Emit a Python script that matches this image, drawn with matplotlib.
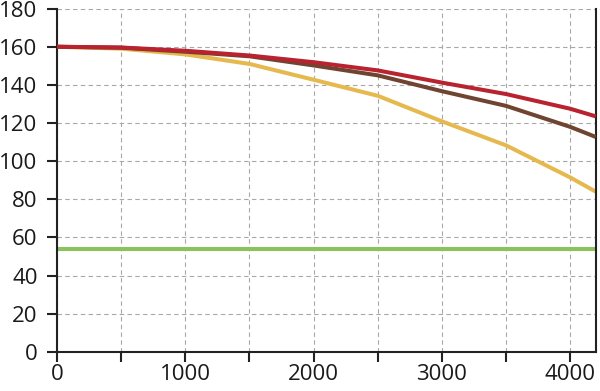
import matplotlib
matplotlib.use("Agg")
import matplotlib.pyplot as plt
from matplotlib.ticker import MultipleLocator

x = [0, 500, 1000, 1500, 2000, 2500, 3000, 3500, 4000, 4200]
red = [160, 159.6, 157.9, 155.4, 151.9, 147.6, 141.2, 135.2, 127.5, 123.5]
brown = [160, 159.5, 157.4, 155.0, 150.2, 145.0, 136.7, 129.0, 118.0, 112.7]
yellow = [160, 159.0, 156.0, 151.0, 142.7, 134.3, 120.9, 108.3, 91.5, 84.0]
green_level = 54

plt.rcParams['font.family'] = ['Open Sans', 'DejaVu Sans']

fig = plt.figure(figsize=(6, 3.91), dpi=100)
ax = fig.add_axes([0.095, 0.1, 0.898, 0.878])

ax.plot(x, red, color='#b8232f', lw=2.9, solid_capstyle='butt', solid_joinstyle='round', zorder=4)
ax.plot(x, brown, color='#6f4431', lw=2.9, solid_capstyle='butt', solid_joinstyle='round', zorder=3)
ax.plot(x, yellow, color='#e5b94d', lw=2.9, solid_capstyle='butt', solid_joinstyle='round', zorder=2)
ax.axhline(green_level, color='#8ac35e', lw=2.9, zorder=2)

ax.set_xlim(0, 4200)
ax.set_ylim(0, 180)
ax.xaxis.set_major_locator(MultipleLocator(1000))
ax.xaxis.set_minor_locator(MultipleLocator(500))
ax.yaxis.set_major_locator(MultipleLocator(20))

ax.grid(True, which='both', color='#a8a8a8', ls=(0, (4, 3)), lw=0.8)
ax.set_axisbelow(True)

ax.spines['top'].set_visible(False)
for s in ['left', 'bottom', 'right']:
    ax.spines[s].set_color('#222222')
    ax.spines[s].set_linewidth(1.5)

ax.tick_params(which='both', direction='out', length=7, width=1.5, color='#222222',
               labelsize=16, labelcolor='#1a1a1a')
ax.tick_params(axis='x', pad=2)
ax.tick_params(axis='y', pad=7)

fig.savefig('out.png', dpi=100)
